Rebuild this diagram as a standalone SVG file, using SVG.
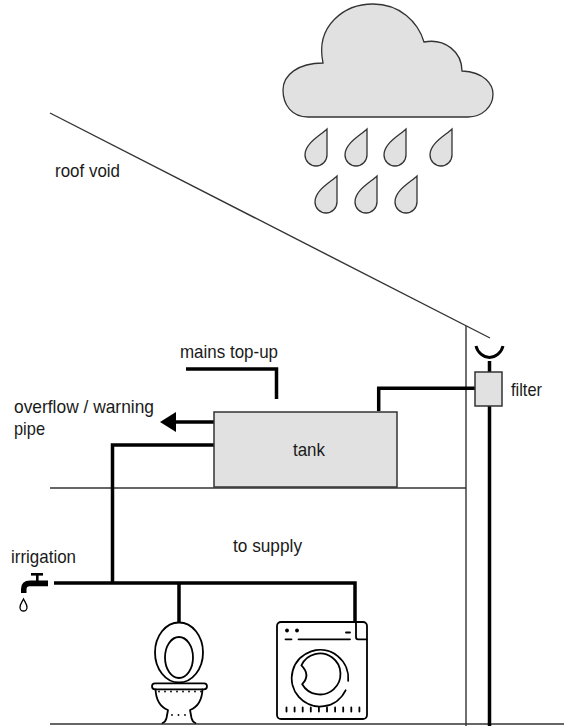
<svg xmlns="http://www.w3.org/2000/svg" width="564" height="726" viewBox="0 0 564 726">
  <style>
    .lbl { font-family: "Liberation Sans", Arial, sans-serif; font-size: 19px; fill: #1a1a1a; }
    .pipe { fill: none; stroke: #000; stroke-width: 3.5; stroke-linejoin: miter; stroke-linecap: butt; }
    .struct { fill: none; stroke: #333; stroke-width: 1.4; }
    .box { fill: #e1e1e1; stroke: #333; stroke-width: 1.5; }
    .drop { fill: #e1e1e1; stroke: #333; stroke-width: 1.3; }
    .icon { fill: none; stroke: #000; stroke-width: 1.8; stroke-linecap: round; stroke-linejoin: round; }
    .dot { fill: #000; }
  </style>
  <defs>
    <path id="raindrop" d="M 11 -25 C 5 -19, -11 -11, -11 1 A 11 11 0 0 0 11 1 C 11 -8, 11 -18, 11 -25 Z"/>
  </defs>

  <rect width="564" height="726" fill="#fff"/>

  <!-- building outline -->
  <g id="building">
    <line class="struct" x1="50" y1="113" x2="490" y2="338"/>
    <line class="struct" x1="466" y1="326" x2="466" y2="726"/>
    <line class="struct" x1="50" y1="488" x2="466" y2="488"/>
    <line class="struct" x1="50" y1="724" x2="564" y2="724"/>
  </g>

  <!-- cloud -->
  <g id="cloud">
    <path class="drop" d="M 323 63 C 315 25, 345 4, 373 4 C 400 4, 418 22, 424 42 C 445 38, 462 52, 462 71 C 485 72, 493 85, 493 94 C 493 107, 482 117, 468 117 L 308 117 C 292 117, 283 105, 283 90 C 283 75, 298 63, 323 63 Z"/>
  </g>

  <!-- rain -->
  <g id="rain">
    <use href="#raindrop" class="drop" x="316" y="154"/>
    <use href="#raindrop" class="drop" x="356" y="154"/>
    <use href="#raindrop" class="drop" x="395" y="154"/>
    <use href="#raindrop" class="drop" x="441" y="154"/>
    <use href="#raindrop" class="drop" x="326" y="201"/>
    <use href="#raindrop" class="drop" x="366" y="201"/>
    <use href="#raindrop" class="drop" x="406" y="201"/>
  </g>

  <!-- pipework -->
  <g id="connectors">
    <!-- gutter to filter stem -->
    <path class="pipe" d="M 489.5 361 V 372"/>
    <!-- downpipe -->
    <path class="pipe" d="M 489.5 406 V 726"/>
    <!-- filter to tank inlet -->
    <path class="pipe" d="M 475 388.3 H 378.7 V 411"/>
    <!-- mains top-up -->
    <path class="pipe" d="M 186 369 H 276.5 V 399"/>
    <!-- overflow / warning pipe -->
    <path class="pipe" d="M 214 422 H 172"/>
    <polygon points="160,422 176,412 176,432" fill="#000"/>
    <!-- supply from tank -->
    <path class="pipe" d="M 214 445 H 112.5 V 583"/>
    <!-- distribution main -->
    <path class="pipe" d="M 54 583 H 355 V 622"/>
    <!-- toilet branch -->
    <path class="pipe" d="M 179 583 V 623"/>
  </g>

  <!-- gutter -->
  <g id="gutter">
    <path d="M 476 346 A 14 15.5 0 0 0 503 346" fill="none" stroke="#000" stroke-width="3"/>
  </g>

  <!-- filter -->
  <g id="filter">
    <rect class="box" x="475" y="372" width="27" height="34"/>
    <text class="lbl" x="511" y="396" textLength="31" lengthAdjust="spacingAndGlyphs">filter</text>
  </g>

  <!-- tank -->
  <g id="tank">
    <rect class="box" x="214" y="412" width="183" height="75"/>
    <text class="lbl" x="293" y="456" textLength="32" lengthAdjust="spacingAndGlyphs">tank</text>
  </g>

  <!-- irrigation tap -->
  <g id="tap">
    <path class="dot" d="M 48 580.5 H 30 Q 21 580.5 21 589 V 593 H 26.5 V 589.5 Q 26.5 586.3 29.5 586.3 H 48 Z"/>
    <rect class="dot" x="31" y="573" width="12" height="2.6"/>
    <rect class="dot" x="36" y="575" width="2.6" height="6"/>
    <path d="M 23.5 599 C 22 602, 20 604, 20 607.5 A 3.5 3.5 0 0 0 27 607.5 C 27 604, 25 602, 23.5 599 Z" fill="#fff" stroke="#000" stroke-width="1.3"/>
    <text class="lbl" x="11" y="563" textLength="65" lengthAdjust="spacingAndGlyphs">irrigation</text>
  </g>

  <!-- toilet -->
  <g id="toilet">
    <ellipse class="icon" cx="179" cy="652.5" rx="24" ry="30"/>
    <ellipse class="icon" cx="179" cy="657.5" rx="14" ry="20.5"/>
    <rect class="icon" x="152" y="683.3" width="55" height="6" rx="3"/>
    <path class="icon" d="M 155.5 689.3 C 156 700, 160 707, 168 710 L 166.5 718 Q 165.5 722 162.5 723 M 202.5 689.3 C 202 700, 198 707, 190 710 L 191.5 718 Q 192.5 722 195.5 723"/>
    <g class="dot">
      <circle cx="159" cy="691.5" r="0.9"/>
      <circle cx="165" cy="691.5" r="0.9"/>
      <circle cx="171" cy="691.5" r="0.9"/>
      <circle cx="177" cy="691.5" r="0.9"/>
      <circle cx="183" cy="691.5" r="0.9"/>
      <circle cx="189" cy="691.5" r="0.9"/>
      <circle cx="195" cy="691.5" r="0.9"/>
      <circle cx="201" cy="691.5" r="0.9"/>
      <circle cx="172" cy="715" r="0.9"/>
      <circle cx="178.5" cy="715" r="0.9"/>
      <circle cx="185" cy="715" r="0.9"/>
    </g>
  </g>

  <!-- washing machine -->
  <g id="washer">
    <rect class="icon" x="277" y="622" width="90" height="97" rx="4"/>
    <path class="icon" d="M 285.5 639.3 H 291.5 M 298.5 639.3 H 350 M 346 632.5 H 350"/>
    <path class="icon" d="M 356 622.5 V 637 Q 356 639.3 358 639.3 H 366.5"/>
    <circle class="dot" cx="287" cy="630.5" r="1.9"/>
    <circle class="dot" cx="297" cy="630.5" r="1.9"/>
    <path class="icon" d="M 345.6 690.3 A 28.3 28.3 0 1 1 348.2 680.8"/>
    <path class="icon" d="M 301.4 665.3 A 20.5 20.5 0 1 1 302.2 684.2 Q 311 675 301.4 665.3 Z"/>
    <path class="icon" d="M 286.5 707.5 V 711.5 M 294.6 707.5 V 711.5 M 302.7 707.5 V 711.5 M 310.8 707.5 V 711.5 M 318.9 707.5 V 711.5 M 327 707.5 V 711.5 M 335.1 707.5 V 711.5 M 343.2 707.5 V 711.5 M 351.3 707.5 V 711.5 M 359.4 707.5 V 711.5"/>
  </g>

  <!-- labels -->
  <g id="labels">
    <text class="lbl" x="55" y="177" textLength="65" lengthAdjust="spacingAndGlyphs">roof void</text>
    <text class="lbl" x="180" y="358" textLength="98" lengthAdjust="spacingAndGlyphs">mains top-up</text>
    <text class="lbl" x="14" y="413" textLength="140" lengthAdjust="spacingAndGlyphs">overflow / warning</text>
    <text class="lbl" x="14" y="435" textLength="31" lengthAdjust="spacingAndGlyphs">pipe</text>
    <text class="lbl" x="233" y="552" textLength="69" lengthAdjust="spacingAndGlyphs">to supply</text>
  </g>
</svg>
